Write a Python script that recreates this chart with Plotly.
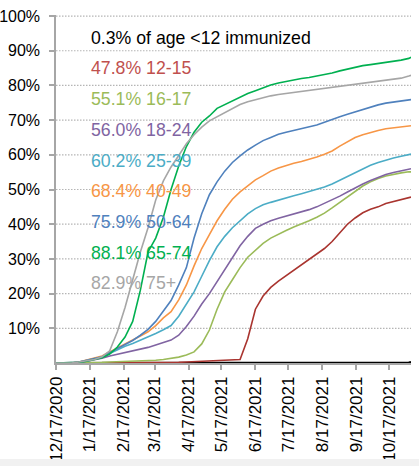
import plotly.graph_objects as go

dates = [
    "2020-12-17", "2020-12-24", "2020-12-31", "2021-01-07", "2021-01-14", "2021-01-21",
    "2021-01-28", "2021-02-04", "2021-02-11", "2021-02-18", "2021-02-25", "2021-03-04",
    "2021-03-11", "2021-03-18", "2021-03-25", "2021-04-01", "2021-04-08", "2021-04-15",
    "2021-04-22", "2021-04-29", "2021-05-06", "2021-05-13", "2021-05-20", "2021-05-27",
    "2021-06-03", "2021-06-10", "2021-06-17", "2021-06-24", "2021-07-01", "2021-07-08",
    "2021-07-15", "2021-07-22", "2021-07-29", "2021-08-05", "2021-08-12", "2021-08-19",
    "2021-08-26", "2021-09-02", "2021-09-09", "2021-09-16", "2021-09-23", "2021-09-30",
    "2021-10-07", "2021-10-14", "2021-10-21", "2021-10-28", "2021-11-04", "2021-11-06",
]

age_lt12 = [0]*45 + [0.05, 0.15, 0.3]
age_12_15 = [0, 0, 0, 0, 0, 0, 0, 0, 0, 0, 0, 0, 0, 0, 0, 0, 0.2, 0.3, 0.4, 0.5, 0.6, 0.7,
             0.8, 0.9, 1.0, 7.0, 15.5, 19.3, 21.8, 23.6, 25.2, 26.8, 28.4, 30.0, 31.5, 33.0,
             35.0, 37.5, 40.0, 41.8, 43.3, 44.3, 45.0, 46.0, 46.6, 47.1, 47.6, 47.8]
age_16_17 = [0, 0, 0, 0, 0, 0.1, 0.2, 0.3, 0.35, 0.4, 0.5, 0.6, 0.7, 0.8, 1.0, 1.3, 1.7,
             2.3, 3.2, 5.5, 9.5, 15.5, 20.5, 24.0, 27.5, 30.5, 32.5, 34.5, 36.0, 37.2, 38.2,
             39.2, 40.0, 41.0, 42.0, 43.2, 44.7, 46.3, 48.0, 49.6, 51.0, 52.2, 53.2, 53.9,
             54.4, 54.8, 55.1, 55.1]
age_18_24 = [0, 0, 0, 0.2, 0.5, 0.9, 1.4, 2.0, 2.5, 2.9, 3.3, 3.9, 4.5, 5.2, 5.9, 6.6, 8.0,
             10.5, 13.5, 17.0, 20.0, 23.5, 27.0, 30.5, 33.8, 36.5, 38.8, 40.0, 41.0, 41.7,
             42.3, 42.8, 43.4, 44.2, 45.0, 46.0, 47.0, 48.1, 49.3, 50.5, 51.6, 52.6, 53.5,
             54.3, 54.9, 55.4, 55.9, 56.0]
age_25_39 = [0, 0, 0, 0.3, 0.7, 1.1, 1.7, 2.7, 3.8, 4.8, 5.6, 6.5, 7.5, 8.5, 9.6, 10.8,
             13.5, 17.0, 20.5, 25.0, 29.5, 33.5, 36.5, 39.0, 41.0, 43.0, 44.5, 45.6, 46.3,
             47.0, 47.6, 48.2, 48.8, 49.4, 50.0, 50.7, 51.6, 52.7, 53.8, 54.9, 56.0, 57.0,
             57.8, 58.5, 59.1, 59.6, 60.1, 60.2]
age_40_49 = [0, 0, 0, 0.3, 0.8, 1.3, 2.0, 3.2, 4.3, 5.4, 6.5, 7.8, 9.0, 10.8, 13.0, 14.8,
             18.2, 22.5, 28.0, 33.0, 37.0, 41.0, 44.3, 47.2, 49.3, 51.0, 52.8, 54.0, 55.3,
             56.2, 57.0, 57.6, 58.1, 58.7, 59.4, 60.2, 61.1, 62.5, 63.8, 65.0, 65.8, 66.5,
             67.0, 67.5, 67.8, 68.1, 68.4, 68.4]
age_50_64 = [0, 0, 0, 0.3, 0.8, 1.2, 1.8, 3.0, 4.2, 5.4, 6.5, 8.0, 9.7, 12.0, 15.0, 18.0,
             22.5, 27.5, 36.0, 43.0, 48.5, 52.2, 55.3, 57.8, 59.7, 61.4, 62.8, 64.1, 65.0,
             65.9, 66.5, 67.0, 67.5, 68.0, 68.6, 69.4, 70.3, 71.0, 71.7, 72.4, 73.2, 73.8,
             74.4, 74.9, 75.2, 75.5, 75.8, 75.9]
age_65_74 = [0, 0, 0, 0.2, 0.5, 0.9, 1.5, 2.6, 4.6, 7.5, 12.0, 21.0, 32.0, 36.0, 42.0, 50.0,
             56.8, 62.4, 66.5, 69.4, 71.2, 73.4, 74.5, 75.6, 76.7, 77.7, 78.5, 79.4, 80.1,
             80.7, 81.2, 81.7, 82.0, 82.3, 82.7, 83.0, 83.6, 84.2, 84.7, 85.3, 85.7, 86.0,
             86.3, 86.6, 86.9, 87.3, 87.8, 88.1]
age_75p = [0, 0, 0, 0.3, 0.6, 1.0, 1.8, 3.5, 9.0, 16.0, 24.0, 32.0, 39.0, 47.0, 52.5, 56.5,
           59.8, 63.2, 65.8, 68.0, 69.8, 71.0, 72.2, 73.2, 74.5, 75.3, 75.9, 76.5, 77.0,
           77.4, 77.7, 78.0, 78.2, 78.5, 78.8, 79.1, 79.4, 79.8, 80.1, 80.4, 80.7, 81.0,
           81.3, 81.6, 81.8, 82.1, 82.7, 82.9]

group_names = ["<12", "12-15", "16-17", "18-24", "25-39", "40-49", "50-64", "65-74", "75+"]
group_pct = [0.3, 47.8, 55.1, 56.0, 60.2, 68.4, 75.9, 88.1, 82.9]
series = [age_lt12, age_12_15, age_16_17, age_18_24, age_25_39, age_40_49,
          age_50_64, age_65_74, age_75p]
line_colors = ["#000000", "#a9342f", "#9bbb59", "#8064a2", "#4bacc6", "#f79646",
               "#4f81bd", "#00b050", "#a6a6a6"]
text_colors = ["#000000", "#c0504d", "#9bbb59", "#8064a2", "#4bacc6", "#f79646",
               "#4f81bd", "#00b050", "#a6a6a6"]

x_ticks = ["2020-12-17", "2021-01-17", "2021-02-17", "2021-03-17", "2021-04-17",
           "2021-05-17", "2021-06-17", "2021-07-17", "2021-08-17", "2021-09-17",
           "2021-10-17"]
y_ticks = [10, 20, 30, 40, 50, 60, 70, 80, 90, 100]
y_tick_text = ["10%", "20%", "30%", "40%", "50%", "60%", "70%", "80%", "90%", "100%"]

FONT = "Liberation Sans, Arial, sans-serif"

fig = go.Figure()
for name, vals, col in zip(group_names, series, line_colors):
    fig.add_trace(go.Scatter(x=dates, y=vals, mode="lines", name=name,
                             line=dict(color=col, width=2 if name == "<12" else 1.6),
                             showlegend=False, hoverinfo="skip"))

annotations = []
for i, (name, pct, col) in enumerate(zip(group_names, group_pct, text_colors)):
    if i == 0:
        txt = f"{pct:.1f}% of age {name} immunized"
    else:
        txt = f"{pct:.1f}% {name}"
    txt = txt.replace("<", "&lt;")
    annotations.append(dict(
        xref="paper", yref="paper", x=0.093, y=(363 - (37.7 + 30.7 * i)) / 348,
        xanchor="left", yanchor="middle", text=txt, showarrow=False,
        font=dict(family=FONT, size=17.7, color=col)))

grid_shapes = [dict(type="line", xref="paper", yref="y", x0=0, x1=1, y0=v, y1=v,
                    layer="below", line=dict(color="#b5b5b5", width=1.2, dash="1.5px,1.5px"))
               for v in y_ticks]
# light strip along the bottom edge of the page
strip = dict(type="rect", xref="paper", yref="paper", layer="above",
             x0=-0.2, x1=1.1, y0=-0.31, y1=-0.2759,
             fillcolor="#f1f1f1", line=dict(width=0))

fig.update_layout(
    width=419, height=466,
    margin=dict(l=56, r=8, t=15, b=103, autoexpand=False),
    paper_bgcolor="white", plot_bgcolor="white",
    font=dict(family=FONT, color="#000000"),
    annotations=annotations,
    shapes=grid_shapes + [strip],
    hovermode=False,
    xaxis=dict(
        type="date", range=["2020-12-17", "2021-11-06"], automargin=False,
        tickvals=x_ticks, tickformat="%-m/%d/%Y", tickangle=-90,
        tickfont=dict(family=FONT, size=17, color="#000000"),
        showgrid=False, zeroline=False,
        showline=True, linecolor="#a6a6a6", linewidth=1.5,
        ticks="outside", ticklen=5, tickcolor="#a6a6a6", tickwidth=1.5,
    ),
    yaxis=dict(
        range=[0, 100.3], tickvals=y_ticks, ticktext=y_tick_text, automargin=False,
        tickfont=dict(family=FONT, size=16, color="#000000"),
        showgrid=False, zeroline=False,
        showline=True, linecolor="#a6a6a6", linewidth=1.5,
        ticks="outside", ticklen=5, tickcolor="#a6a6a6", tickwidth=1.5,
        ticklabeloverflow="allow", ticklabelstandoff=6,
    ),
)

fig.write_html("out.html", config={"displayModeBar": False},
               post_script="document.body.style.margin='0px';")
